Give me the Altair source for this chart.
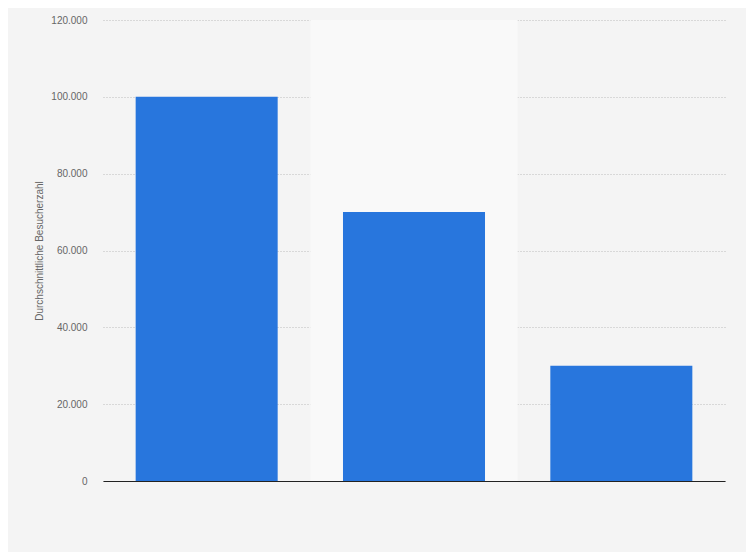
import altair as alt
import pandas as pd

categories = ["Kategorie 1", "Kategorie 2", "Kategorie 3"]
values = [100000, 70000, 30000]
highlight = ["Kategorie 2"]
y_ticks = [0, 20000, 40000, 60000, 80000, 100000, 120000]

df = pd.DataFrame({"cat": categories, "val": values})
df_bg = pd.DataFrame({"cat": highlight, "val": [120000]})

xscale = alt.Scale(domain=categories, paddingInner=0.315, paddingOuter=0.1575)
yscale = alt.Scale(domain=[0, 120000], nice=False)

xaxis = alt.Axis(
    labels=False, ticks=False, title=None, grid=False,
    domain=True, domainColor="#222222", domainWidth=1,
)
yaxis = alt.Axis(
    values=y_ticks,
    labelExpr="replace(format(datum.value, ',d'), ',', '.')",
    title="Durchschnittliche Besucherzahl",
    titleFontSize=10, titleFontWeight="normal", titleColor="#666666",
    titleFont="Liberation Sans", titlePadding=6,
    labelFont="Liberation Sans", labelFontSize=10, labelColor="#666666",
    labelPadding=16, ticks=False, domain=False,
    grid=True, gridColor="#bdbdbd", gridDash=[1, 2], gridWidth=1,
)

x_enc = alt.X("cat:N", scale=xscale, sort=categories, axis=xaxis)
y_enc = alt.Y("val:Q", scale=yscale, axis=yaxis)

bg = alt.Chart(df_bg).mark_bar(
    color="#f9f9f9", width=alt.RelativeBandSize(1 / 0.685)
).encode(x=x_enc, y=y_enc)

bars = alt.Chart(df).mark_bar(color="#2876dd").encode(x=x_enc, y=y_enc)

chart = alt.layer(bg, bars).properties(
    width=622,
    height=461,
    autosize=alt.AutoSizeParams(type="none"),
    padding={"left": 95, "top": 12, "right": 21, "bottom": 71},
    background="#f4f4f4",
).configure_view(stroke=None, fill="#f4f4f4")

chart.save("out.html", embed_options={"renderer": "svg", "actions": False})
